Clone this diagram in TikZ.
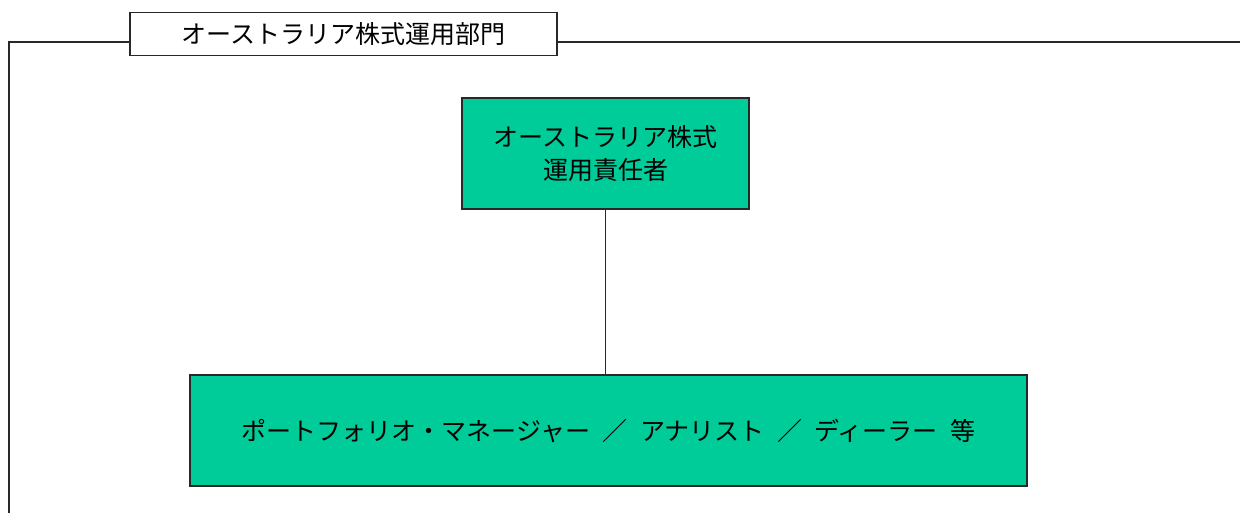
\documentclass[tikz,border=0pt]{standalone}
\usepackage{fontspec}
\newfontfamily\jp{Noto Sans CJK JP}
\definecolor{boxgreen}{RGB}{0,204,153}
\definecolor{lineg}{RGB}{40,40,40}
\begin{document}
\begin{tikzpicture}[x=1pt,y=-1pt,
  every node/.style={font=\jp\fontsize{25}{33}\selectfont, inner sep=0pt, align=center},
  greenbox/.style={draw=lineg, line width=1.3pt, fill=boxgreen},
  titlebox/.style={draw=lineg, line width=1.3pt, fill=white},
  frameline/.style={draw=lineg, line width=1.5pt}]
\useasboundingbox (0,0) rectangle (1240,512);
\fill[white] (0,0) rectangle (1240,512);
\coordinate (fTL) at (9,42);
\coordinate (fBL) at (9,514);
\coordinate (fTR) at (1242,42);
\node[titlebox, minimum width=427pt, minimum height=43pt] (title) at (343.5,34) {オーストラリア株式運用部門};
\node[greenbox, minimum width=287pt, minimum height=111pt] (top) at (605.5,153.5) {オーストラリア株式\\運用責任者};
\node[greenbox, minimum width=837pt, minimum height=111pt] (bottom) at (608.5,430.5) {ポートフォリオ・マネージャー\hspace{0.5em}／\hspace{0.5em}アナリスト\hspace{0.5em}／\hspace{0.5em}ディーラー\hspace{0.5em}等};
\draw[frameline] (fBL) -- (fTL) -- (fTL -| title.west);
\draw[frameline] (fTL -| title.east) -- (fTR);
\draw[frameline] (top.south) -- (top.south |- bottom.north);
\end{tikzpicture}
\end{document}
